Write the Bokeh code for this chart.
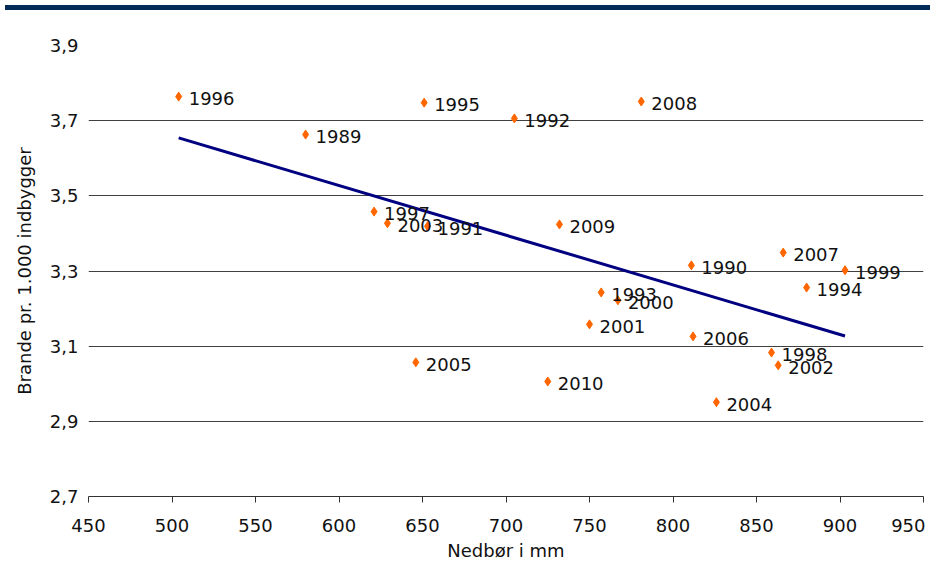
import numpy as np
from bokeh.plotting import figure
from bokeh.models import ColumnDataSource, FixedTicker, Div
from bokeh.layouts import column
from bokeh.core.properties import value
from bokeh.embed import file_html
from bokeh.resources import INLINE

years = ["1996", "1989", "1995", "1992", "2008", "1997", "2003", "1991", "2009",
         "1990", "2007", "1999", "1994", "1993", "2000", "2001", "2006", "1998",
         "2002", "2004", "2010", "2005"]
rainfall_mm = [504, 580, 651, 705, 781, 621, 629, 653, 732,
               811, 866, 903, 880, 757, 767, 750, 812, 859,
               863, 826, 725, 646]
fires_per_1000 = [3.764, 3.663, 3.748, 3.706, 3.751, 3.458, 3.427, 3.419, 3.424,
                  3.315, 3.349, 3.302, 3.256, 3.243, 3.222, 3.158, 3.126, 3.083,
                  3.049, 2.951, 3.006, 3.057]

x_ticks = [450, 500, 550, 600, 650, 700, 750, 800, 850, 900, 950]
y_ticks = [2.7, 2.9, 3.1, 3.3, 3.5, 3.7, 3.9]
y_tick_labels = ["2,7", "2,9", "3,1", "3,3", "3,5", "3,7", "3,9"]

FONT = "DejaVu Sans"

# linear trend from the data
slope, intercept = np.polyfit(rainfall_mm, fires_per_1000, 1)
trend_x = [min(rainfall_mm), max(rainfall_mm)]
trend_y = [slope * v + intercept for v in trend_x]

src = ColumnDataSource(dict(x=rainfall_mm, y=fires_per_1000, year=years))

p = figure(width=925, height=550, x_range=(450, 950), y_range=(2.7, 3.9),
           output_backend="svg", toolbar_location=None,
           min_border_left=88, min_border_right=2, min_border_top=30, min_border_bottom=69)
p.outline_line_color = None
p.background_fill_color = "white"
p.border_fill_color = "white"

p.xgrid.grid_line_color = None
p.ygrid.grid_line_color = "#404040"
p.ygrid.grid_line_width = 1

p.xaxis.ticker = FixedTicker(ticks=x_ticks)
p.yaxis.ticker = FixedTicker(ticks=y_ticks)
p.yaxis.major_label_overrides = {t: l for t, l in zip(y_ticks, y_tick_labels)}

p.xaxis.axis_line_color = "#333333"
p.xaxis.major_tick_line_color = "#333333"
p.xaxis.major_tick_out = 6
p.xaxis.major_tick_in = 0
p.xaxis.minor_tick_line_color = None
p.xaxis.major_label_standoff = 16
p.yaxis.axis_line_color = None
p.yaxis.major_tick_line_color = None
p.yaxis.minor_tick_line_color = None
p.yaxis.major_label_standoff = 4

for ax in (p.xaxis, p.yaxis):
    ax.major_label_text_font = FONT
    ax.major_label_text_font_size = "18px"
    ax.major_label_text_color = "#111111"
    ax.axis_label_text_font = FONT
    ax.axis_label_text_font_size = "18px"
    ax.axis_label_text_font_style = "normal"
    ax.axis_label_text_color = "#111111"

p.xaxis.axis_label = "Nedbør i mm"
p.yaxis.axis_label = "Brande pr. 1.000 indbygger"
p.xaxis.axis_label_standoff = 5
p.yaxis.axis_label_standoff = 12

p.line(trend_x, trend_y, line_color="#000080", line_width=3)
p.scatter("x", "y", source=src, marker="diamond", size=9,
          fill_color="#ff6600", line_color="#ff6600")
p.text("x", "y", text="year", source=src, x_offset=10, y_offset=2,
       text_baseline="middle", text_align="left",
       text_font=value(FONT), text_font_size="18px", text_color="#111111")

bar = Div(text="", width=925, height=5,
          styles={"background-color": "#002b57"})

layout = column(bar, p, spacing=0)

with open("out.html", "w") as f:
    f.write(file_html(layout, INLINE))
